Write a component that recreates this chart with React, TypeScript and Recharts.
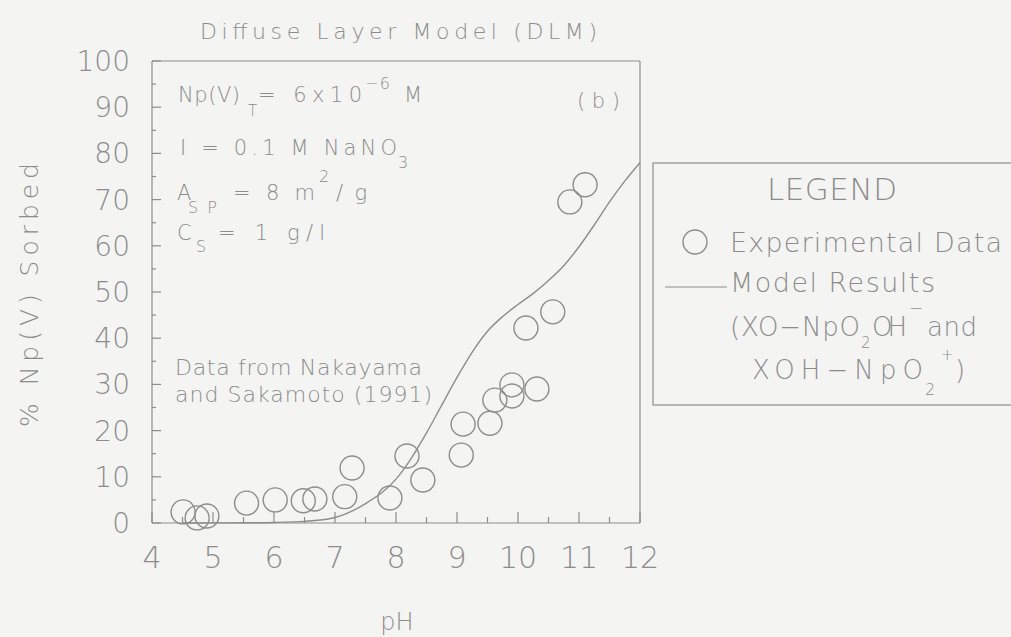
import { ComposedChart, Line, Scatter, XAxis, YAxis } from 'recharts'

// measured sorption points (pH, % sorbed)
const expPh = [4.51, 4.74, 4.9, 5.55, 6.02, 6.48, 6.67, 7.16, 7.28, 7.9, 8.18, 8.44, 9.07, 9.1, 9.54, 9.62, 9.9, 9.9, 10.31, 10.13, 10.57, 10.85, 11.1]
const expSorbed = [2.4, 1.1, 1.5, 4.3, 5.0, 4.8, 5.2, 5.7, 11.9, 5.4, 14.5, 9.3, 14.7, 21.4, 21.6, 26.6, 29.9, 27.5, 29.0, 42.2, 45.7, 69.5, 73.2]

// diffuse layer model curve
const modelPh = [4.5, 5, 5.5, 6, 6.5, 7, 7.5, 8, 8.25, 8.5, 8.75, 9, 9.25, 9.5, 9.75, 10, 10.25, 10.5, 10.75, 11, 11.25, 11.5, 11.75, 12]
const modelSorbed = [0, 0.02, 0.05, 0.12, 0.35, 1.2, 4.2, 9.5, 14, 19.5, 25.5, 31.5, 37, 41.5, 44.7, 47.3, 49.7, 52.5, 55.7, 59.8, 64.5, 69.5, 74, 78]

const phTicks = [4, 4.5, 5, 5.5, 6, 6.5, 7, 7.5, 8, 8.5, 9, 9.5, 10, 10.5, 11, 11.5, 12]
const sorbedTicks = [0, 5, 10, 15, 20, 25, 30, 35, 40, 45, 50, 55, 60, 65, 70, 75, 80, 85, 90, 95, 100]

const expData = expPh.map((x, i) => ({ x, y: expSorbed[i] }))
const modelData = modelPh.map((x, i) => ({ x, y: modelSorbed[i] }))

const INK = '#8d8d8d'
const TEXT = '#8c8c8c'
const BG = '#f4f4f2'

const isMajorPh = (v: number) => Number.isInteger(v)
const isMajorPct = (v: number) => v % 10 === 0

function BottomTick({ x, y, payload }: any) {
  const major = isMajorPh(payload.value)
  return (
    <g>
      <line x1={x} y1={y} x2={x} y2={y - (major ? 11 : 6)} stroke={INK} strokeWidth={1.2} />
      {major && (
        <text x={x} y={y + 45} textAnchor="middle" fontSize={30} fill={TEXT}>
          {payload.value}
        </text>
      )}
    </g>
  )
}

function TopTick({ x, y, payload }: any) {
  const major = isMajorPh(payload.value)
  return <line x1={x} y1={y} x2={x} y2={y + (major ? 10 : 5)} stroke={INK} strokeWidth={1.2} />
}

function LeftTick({ x, y, payload }: any) {
  const major = isMajorPct(payload.value)
  return (
    <g>
      <line x1={x} y1={y} x2={x + (major ? 9 : 4)} y2={y} stroke={INK} strokeWidth={1.2} />
      {major && (
        <text x={x - 22} y={y + 10} textAnchor="end" fontSize={28} fill={TEXT}>
          {payload.value}
        </text>
      )}
    </g>
  )
}

function RightTick({ x, y, payload }: any) {
  const major = isMajorPct(payload.value)
  return <line x1={x} y1={y} x2={x - (major ? 11 : 5)} y2={y} stroke={INK} strokeWidth={1.2} />
}

const OpenCircle = (props: any) => (
  <circle cx={props.cx} cy={props.cy} r={12} fill="none" stroke={INK} strokeWidth={1.4} />
)

function T({ x, y, size = 21, len, anchor = 'start', children }: any) {
  return (
    <text x={x} y={y} fontSize={size} textAnchor={anchor} textLength={len} lengthAdjust={len ? 'spacing' : undefined} fill={TEXT}>
      {children}
    </text>
  )
}

function Annotations() {
  return (
    <svg width={1011} height={637} style={{ position: 'absolute', left: 0, top: 0, pointerEvents: 'none' }}>
      <T x={200} y={39} size={22} len={397}>Diffuse Layer Model (DLM)</T>

      {/* conditions block */}
      <T x={178} y={102} len={62}>Np(V)</T>
      <T x={248} y={116} size={15}>T</T>
      <T x={258} y={102} len={104}>= 6x10</T>
      <T x={365} y={89} size={16} len={25}>−6</T>
      <T x={404} y={102}>M</T>

      <T x={180} y={155} len={217}>I = 0.1 M NaNO</T>
      <T x={398} y={168} size={16}>3</T>

      <T x={177} y={200}>A</T>
      <T x={188} y={213} size={16} len={29}>SP</T>
      <T x={233} y={200} len={82}>= 8 m</T>
      <T x={319} y={182} size={16}>2</T>
      <T x={336} y={200} len={31}>/g</T>

      <T x={177} y={240}>C</T>
      <T x={196} y={252} size={16}>S</T>
      <T x={218} y={240} len={107}>= 1 g/l</T>

      <T x={577} y={108} len={43}>(b)</T>

      <T x={175} y={375} size={22} len={247}>Data from Nakayama</T>
      <T x={175} y={402} size={22} len={257}>and Sakamoto (1991)</T>

      {/* axis titles */}
      <T x={397} y={630} size={24} anchor="middle">pH</T>
      <g transform="translate(38,295) rotate(-90)">
        <T x={0} y={0} size={25} anchor="middle" len={264}>% Np(V) Sorbed</T>
      </g>

      {/* legend box */}
      <rect x={653} y={163} width={400} height={242} fill="none" stroke={INK} strokeWidth={1.2} />
      <T x={767} y={200} size={31} len={130}>LEGEND</T>
      <circle cx={695} cy={242} r={12} fill="none" stroke={INK} strokeWidth={1.4} />
      <T x={730} y={252} size={27} len={272}>Experimental Data</T>
      <line x1={665} y1={287} x2={727} y2={287} stroke={INK} strokeWidth={1.2} />
      <T x={730} y={292} size={27} len={205}>Model Results</T>
      <T x={730} y={336} size={26} len={130}>(XO−NpO</T>
      <T x={861} y={348} size={15}>2</T>
      <T x={872} y={336} size={26} len={35}>OH</T>
      <T x={909} y={314} size={17}>−</T>
      <T x={927} y={336} size={26} len={50}>and</T>
      <T x={752} y={379} size={26} len={171}>XOH−NpO</T>
      <T x={925} y={395} size={16}>2</T>
      <T x={941} y={360} size={15}>+</T>
      <T x={955} y={379} size={26}>)</T>
    </svg>
  )
}

export default function App() {
  return (
    <div
      style={{
        position: 'absolute',
        left: 0,
        top: 0,
        width: 1011,
        height: 637,
        background: BG,
        fontFamily: '"DejaVu Sans", sans-serif',
        fontWeight: 200,
        overflow: 'hidden',
      }}
    >
      {/* every axis is 1px thick so the plot box sits at x 152..640, y 61..523 */}
      <ComposedChart width={1011} height={637} margin={{ top: 60, left: 151, right: 370, bottom: 113 }}>
        <XAxis
          dataKey="x"
          type="number"
          domain={[4, 12]}
          ticks={phTicks}
          interval={0}
          height={1}
          tickSize={0}
          tickMargin={0}
          tickLine={false}
          tick={<BottomTick />}
          axisLine={{ stroke: INK, strokeWidth: 1.2 }}
        />
        <XAxis
          xAxisId="top"
          orientation="top"
          dataKey="x"
          type="number"
          domain={[4, 12]}
          ticks={phTicks}
          interval={0}
          height={1}
          tickSize={0}
          tickMargin={0}
          tickLine={false}
          tick={<TopTick />}
          axisLine={{ stroke: INK, strokeWidth: 1.2 }}
        />
        <YAxis
          type="number"
          domain={[0, 100]}
          ticks={sorbedTicks}
          interval={0}
          width={1}
          tickSize={0}
          tickMargin={0}
          tickLine={false}
          tick={<LeftTick />}
          axisLine={{ stroke: INK, strokeWidth: 1.2 }}
        />
        <YAxis
          yAxisId="right"
          orientation="right"
          type="number"
          domain={[0, 100]}
          ticks={sorbedTicks}
          interval={0}
          width={1}
          tickSize={0}
          tickMargin={0}
          tickLine={false}
          tick={<RightTick />}
          axisLine={{ stroke: INK, strokeWidth: 1.2 }}
        />
        <Line
          data={modelData}
          dataKey="y"
          type="monotone"
          stroke={INK}
          strokeWidth={1.4}
          dot={false}
          isAnimationActive={false}
        />
        <Scatter data={expData} dataKey="y" shape={OpenCircle} isAnimationActive={false} />
      </ComposedChart>
      <Annotations />
    </div>
  )
}
